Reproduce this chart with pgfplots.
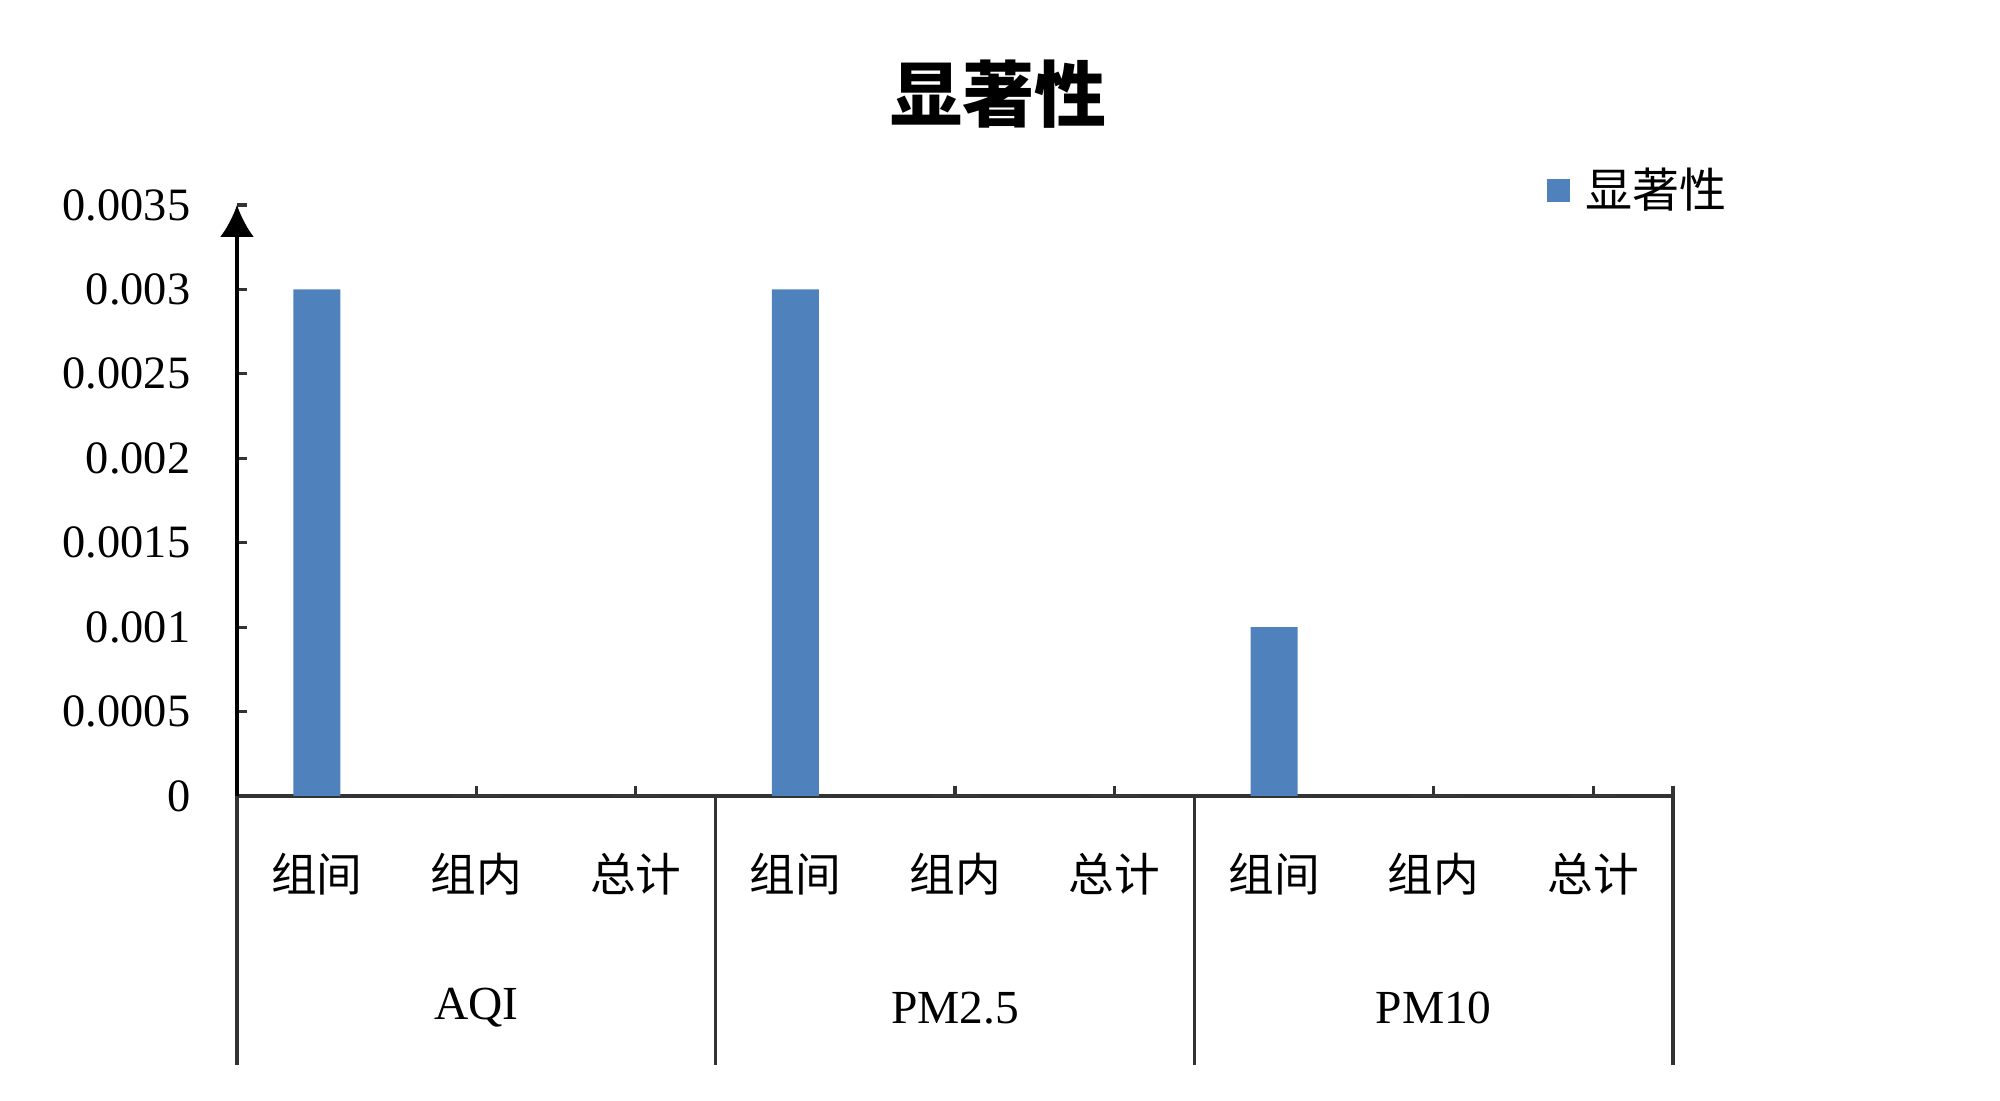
\documentclass[border=0pt]{standalone}
\usepackage{fontspec}
\setmainfont{Liberation Serif}
\newfontfamily\cjk{Noto Sans CJK SC}
\usepackage{pgfplots}
\pgfplotsset{compat=1.18}
\usetikzlibrary{arrows.meta}
\definecolor{barblue}{HTML}{4F81BD}
\definecolor{axisgray}{HTML}{333333}

\begin{document}
\begin{tikzpicture}
\path[use as bounding box] (-23.7mm,-30.5mm) rectangle (176.3mm,79.6mm);
\begin{axis}[
  at={(0,0)}, anchor=south west,
  scale only axis, width=143.6mm, height=59.1mm,
  ybar, bar width=4.7mm,
  xmin=-0.5, xmax=8.5, ymin=0, ymax=0.0035,
  axis x line=bottom, axis y line=left,
  x axis line style={-, line width=0.9pt, axisgray},
  y axis line style={-{Latex[length=3.2mm,width=3.4mm]}, line width=0.9pt, black},
  tick align=inside, major tick length=1mm,
  tick style={line width=0.9pt, axisgray},
  scaled y ticks=false,
  ytick={0,0.0005,0.001,0.0015,0.002,0.0025,0.003,0.0035},
  yticklabels={0,0.0005,0.001,0.0015,0.002,0.0025,0.003,0.0035},
  yticklabel style={anchor=east, inner sep=0pt, xshift=-4.6mm,
    font=\fontsize{13.2}{15}\selectfont},
  xtick={0,1,2,3,4,5,6,7,8},
  xticklabels={组间,组内,总计,组间,组内,总计,组间,组内,总计},
  xticklabel style={anchor=center, yshift=-7.8mm,
    font=\cjk\fontsize{13}{15}\selectfont},
  title={显著性},
  title style={at={(0.5306,1.152)}, anchor=center,
    font=\cjk\bfseries\fontsize{20.5}{24}\selectfont},
  legend style={at={(0.912,1.024)}, anchor=west, draw=none, fill=none,
    inner sep=0pt, font=\cjk\fontsize{13.4}{15}\selectfont,
    /tikz/every odd column/.append style={column sep=0.8mm}},
  legend image code/.code={\fill[barblue] (0mm,-1.15mm) rectangle (2.3mm,1.15mm);},
  clip=false,
]
\addplot[fill=barblue, draw=none] coordinates {
  (0,0.003) (1,0) (2,0)
  (3,0.003) (4,0) (5,0)
  (6,0.001) (7,0) (8,0)
};
\addlegendentry{显著性}

\draw[line width=0.9pt, axisgray] (axis cs:-0.5,0) -- ++(0pt,-26.9mm);
\draw[line width=0.9pt, axisgray] (axis cs:2.5,0) -- ++(0pt,-26.9mm);
\draw[line width=0.9pt, axisgray] (axis cs:5.5,0) -- ++(0pt,-26.9mm);
\draw[line width=0.9pt, axisgray] ([yshift=1mm]axis cs:8.5,0) -- ++(0pt,-27.9mm);

\node[font=\fontsize{13.5}{15}\selectfont] at ([yshift=-21.2mm]axis cs:1,0) {AQI};
\node[font=\fontsize{13.5}{15}\selectfont] at ([yshift=-21.2mm]axis cs:4,0) {PM2.5};
\node[font=\fontsize{13.5}{15}\selectfont] at ([yshift=-21.2mm]axis cs:7,0) {PM10};
\end{axis}
\end{tikzpicture}
\end{document}
